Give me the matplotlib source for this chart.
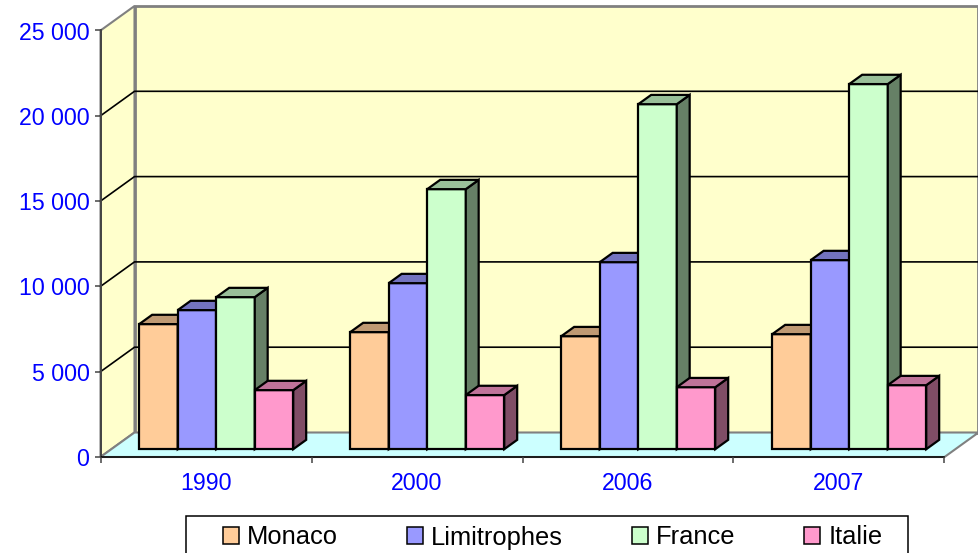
import matplotlib
matplotlib.use('Agg')
import matplotlib.pyplot as plt
from matplotlib.patches import Polygon, Patch, Rectangle
from matplotlib.colors import to_rgb

years = ['1990', '2000', '2006', '2007']
monaco = [7330, 6860, 6620, 6740]
limitrophes = [8150, 9730, 10960, 11080]
france = [8910, 15240, 20220, 21400]
italie = [3460, 3170, 3630, 3750]

noms = ['Monaco', 'Limitrophes', 'France', 'Italie']
series = [monaco, limitrophes, france, italie]
couleurs = ['#FFCC99', '#9999FF', '#CCFFCC', '#FF99CC']
ticks_y = [0, 5000, 10000, 15000, 20000, 25000]
ymax = 25000

plt.rcParams['font.family'] = ['Liberation Sans', 'DejaVu Sans']

fig = plt.figure(figsize=(9.79, 5.53), dpi=100)
ax = fig.add_axes([100.5 / 979, 1 - 457 / 553, 844 / 979, 426.5 / 553])
ax.set_xlim(0, 4)
ax.set_ylim(0, ymax)
ax.patch.set_visible(False)

# decalage de la profondeur (unites de donnees pour depth = 1)
dx = 34 / 211
dy = 24.5 / 426.5 * ymax


def proj(x, y, d):
    return (x + d * dx, y + d * dy)


def face(pts, fc, ec='black', lw=1.6, z=2):
    ax.add_patch(Polygon(pts, closed=True, facecolor=fc, edgecolor=ec, linewidth=lw,
                         joinstyle='miter', clip_on=False, zorder=z))


def sombre(c, f):
    return tuple(v * f for v in to_rgb(c))


# murs et sol
face([proj(0, 0, 1), proj(4, 0, 1), proj(4, ymax, 1), proj(0, ymax, 1)], '#FFFFCC', '#808080', 2, 1)
face([proj(0, 0, 0), proj(0, 0, 1), proj(0, ymax, 1), proj(0, ymax, 0)], '#FFFFCC', '#808080', 1.5, 1)
face([proj(0, 0, 0), proj(4, 0, 0), proj(4, 0, 1), proj(0, 0, 1)], '#CCFFFF', '#808080', 1.5, 1)

# lignes de grille
for v in ticks_y[1:-1]:
    xs, ys = zip(proj(0, v, 0), proj(0, v, 1), proj(4, v, 1))
    ax.plot(xs, ys, color='black', lw=1.2, clip_on=False, zorder=1.5)

# barres
larg = 0.1825
marge = 0.132
d0, d1 = 0.32, 0.70
for i in range(len(years)):
    for j, vals in enumerate(series):
        c = couleurs[j]
        h = vals[i]
        x0 = i + marge + j * larg
        x1 = x0 + larg
        face([proj(x0, 0, d0), proj(x1, 0, d0), proj(x1, h, d0), proj(x0, h, d0)], c)
        face([proj(x1, 0, d0), proj(x1, 0, d1), proj(x1, h, d1), proj(x1, h, d0)], sombre(c, 0.5))
        face([proj(x0, h, d0), proj(x1, h, d0), proj(x1, h, d1), proj(x0, h, d1)], sombre(c, 0.75))

# axes
for s in ['top', 'right']:
    ax.spines[s].set_visible(False)
ax.spines['left'].set_color('#444444')
ax.spines['left'].set_linewidth(1.4)
ax.spines['bottom'].set_color('black')
ax.spines['bottom'].set_linewidth(1.1)
ax.set_axisbelow(False)
ax.set_yticks(ticks_y)
ax.set_yticklabels([f'{v:,}'.replace(',', ' ') for v in ticks_y], color='#0000FF', fontsize=16.7)
ax.tick_params(axis='y', length=4.5, width=1.1, color='#444444', pad=3.5)
ax.set_xticks(range(5))
ax.set_xticklabels([])
ax.tick_params(axis='x', length=4.5, width=1.1, color='#444444')
ax.set_xticks([i + 0.5 for i in range(4)], labels=years, minor=True)
ax.tick_params(axis='x', which='minor', length=0, pad=11, labelsize=16.7, labelcolor='#0000FF')

# legende : cadre coupe par le bas de l'image
fig.add_artist(Rectangle((186 / 979, -0.02), 722 / 979, 1 - 516 / 553 + 0.02, transform=fig.transFigure,
                         facecolor='white', edgecolor='black', linewidth=1.1))
poignees = [Patch(facecolor=c, edgecolor='black', linewidth=1.1) for c in couleurs]
leg = fig.legend(poignees, noms, loc='upper left', bbox_to_anchor=(223 / 979, 1 - 525.5 / 553),
                 ncol=4, fontsize=18.4, frameon=False, handlelength=0.62, handleheight=0.6,
                 handletextpad=0.32, columnspacing=2.7, borderaxespad=0, borderpad=0)

fig.savefig('out.png', dpi=100)
